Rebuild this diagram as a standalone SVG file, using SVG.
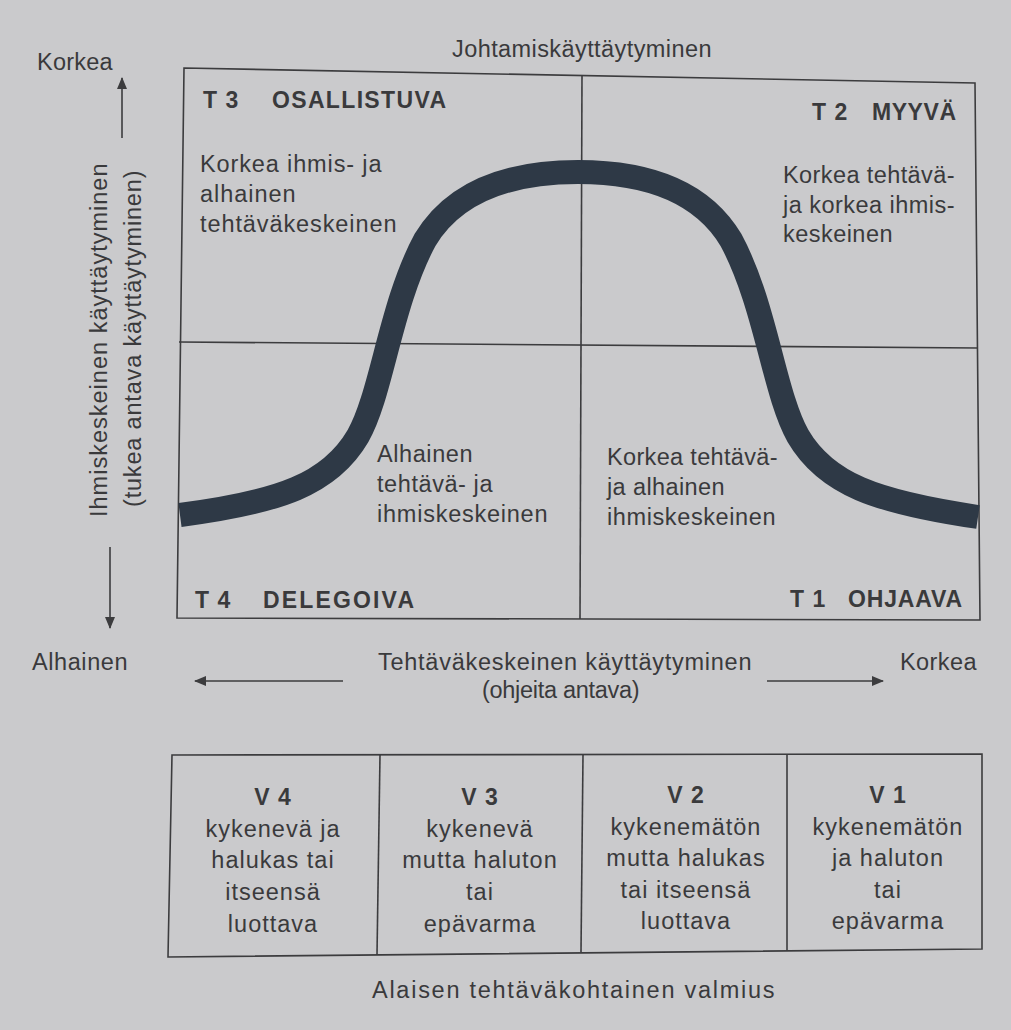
<svg xmlns="http://www.w3.org/2000/svg" width="1011" height="1030" viewBox="0 0 1011 1030">
<defs>
<style>
text{font-family:"Liberation Sans",Arial,sans-serif;fill:#3a3a3c;font-size:23.5px;letter-spacing:0.5px}
.b{font-weight:bold;font-size:23px;letter-spacing:1px}
.t{font-size:23.5px;letter-spacing:1px}
.c{text-anchor:middle}
.ln{stroke:#3c3c3e;stroke-width:1.6;fill:none}
.ar{stroke:#3c3c3e;stroke-width:1.6;fill:none;marker-end:url(#ah)}
</style>
<marker id="ah" viewBox="0 0 12 10" refX="11" refY="5" markerWidth="12" markerHeight="10" markerUnits="userSpaceOnUse" orient="auto">
<path d="M0,0 L12,5 L0,10 Z" fill="#3c3c3e"/>
</marker>
</defs>
<rect width="1011" height="1030" fill="#cacacc"/>

<g id="frame">
<polygon class="ln" points="184,68 975,83 980,620 177,618"/>
<line class="ln" x1="582" y1="75" x2="580" y2="619"/>
<line class="ln" x1="179" y1="342" x2="978" y2="348"/>
</g>

<g id="curve">
<path d="M180,515 C280,502 330,484 358,436 C382,394 390,305 425,240 C455,190 510,172 578,172 C646,172 701,190 731,240 C766,305 774,394 798,436 C826,484 876,502 978,517" fill="none" stroke="#2e3946" stroke-width="24"/>
</g>

<g id="title">
<text x="452" y="57" textLength="260" lengthAdjust="spacing">Johtamiskäyttäytyminen</text>
</g>

<g id="q-t3">
<text class="b" x="203" y="108">T 3</text>
<text class="b" x="272" y="108" textLength="175" lengthAdjust="spacing">OSALLISTUVA</text>
<text x="200" y="172" textLength="182" lengthAdjust="spacing">Korkea ihmis- ja</text>
<text x="200" y="202" textLength="96" lengthAdjust="spacing">alhainen</text>
<text x="200" y="232" textLength="197" lengthAdjust="spacing">tehtäväkeskeinen</text>
</g>

<g id="q-t2">
<text class="b" x="812" y="120">T 2</text>
<text class="b" x="872" y="120" textLength="85" lengthAdjust="spacing">MYYVÄ</text>
<text x="783" y="183" textLength="172" lengthAdjust="spacing">Korkea tehtävä-</text>
<text x="783" y="213" textLength="172" lengthAdjust="spacing">ja korkea ihmis-</text>
<text x="783" y="242" textLength="110" lengthAdjust="spacing">keskeinen</text>
</g>

<g id="q-t4">
<text x="377" y="462" textLength="96" lengthAdjust="spacing">Alhainen</text>
<text x="377" y="492" textLength="116" lengthAdjust="spacing">tehtävä- ja</text>
<text x="377" y="522" textLength="171" lengthAdjust="spacing">ihmiskeskeinen</text>
<text class="b" x="195" y="608">T 4</text>
<text class="b" x="263" y="608" textLength="152" lengthAdjust="spacing">DELEGOIVA</text>
</g>

<g id="q-t1">
<text x="607" y="465" textLength="171" lengthAdjust="spacing">Korkea tehtävä-</text>
<text x="607" y="495" textLength="118" lengthAdjust="spacing">ja alhainen</text>
<text x="607" y="525" textLength="169" lengthAdjust="spacing">ihmiskeskeinen</text>
<text class="b" x="790" y="607">T 1</text>
<text class="b" x="848" y="607" textLength="115" lengthAdjust="spacing">OHJAAVA</text>
</g>

<g id="y-axis">
<text x="37" y="70" textLength="76" lengthAdjust="spacing">Korkea</text>
<text transform="translate(107,517) rotate(-90)" textLength="354" lengthAdjust="spacing">Ihmiskeskeinen käyttäytyminen</text>
<text transform="translate(141,507) rotate(-90)" textLength="337" lengthAdjust="spacing">(tukea antava käyttäytyminen)</text>
<text x="32" y="670" textLength="96" lengthAdjust="spacing">Alhainen</text>
</g>

<g id="x-axis">
<text x="378" y="670" textLength="374" lengthAdjust="spacing">Tehtäväkeskeinen käyttäytyminen</text>
<text x="482" y="698" textLength="158" lengthAdjust="spacing">(ohjeita antava)</text>
<text x="900" y="670" textLength="77" lengthAdjust="spacing">Korkea</text>
</g>

<g id="connectors">
<line class="ar" x1="122" y1="138" x2="122" y2="78"/>
<line class="ar" x1="110" y1="547" x2="110" y2="628"/>
<line class="ar" x1="343" y1="681" x2="195" y2="681"/>
<line class="ar" x1="767" y1="681" x2="883" y2="681"/>
</g>

<g id="table">
<polygon class="ln" points="172,755 982,754 982,949 168,957"/>
<line class="ln" x1="380" y1="755" x2="377" y2="955"/>
<line class="ln" x1="583" y1="755" x2="581" y2="952"/>
<line class="ln" x1="787" y1="754" x2="787" y2="950"/>
</g>

<g id="v4">
<text class="b c" x="273" y="805">V 4</text>
<text class="t c" x="273" y="837">kykenevä ja</text>
<text class="t c" x="273" y="868">halukas tai</text>
<text class="t c" x="273" y="900">itseensä</text>
<text class="t c" x="273" y="932">luottava</text>
</g>
<g id="v3">
<text class="b c" x="480" y="805">V 3</text>
<text class="t c" x="480" y="837">kykenevä</text>
<text class="t c" x="480" y="868">mutta haluton</text>
<text class="t c" x="480" y="900">tai</text>
<text class="t c" x="480" y="932">epävarma</text>
</g>
<g id="v2">
<text class="b c" x="686" y="803">V 2</text>
<text class="t c" x="686" y="835">kykenemätön</text>
<text class="t c" x="686" y="866">mutta halukas</text>
<text class="t c" x="686" y="898">tai itseensä</text>
<text class="t c" x="686" y="929">luottava</text>
</g>
<g id="v1">
<text class="b c" x="888" y="803">V 1</text>
<text class="t c" x="888" y="835">kykenemätön</text>
<text class="t c" x="888" y="866">ja haluton</text>
<text class="t c" x="888" y="898">tai</text>
<text class="t c" x="888" y="929">epävarma</text>
</g>

<g id="footer">
<text x="372" y="998" textLength="403" lengthAdjust="spacing">Alaisen tehtäväkohtainen valmius</text>
</g>
</svg>
